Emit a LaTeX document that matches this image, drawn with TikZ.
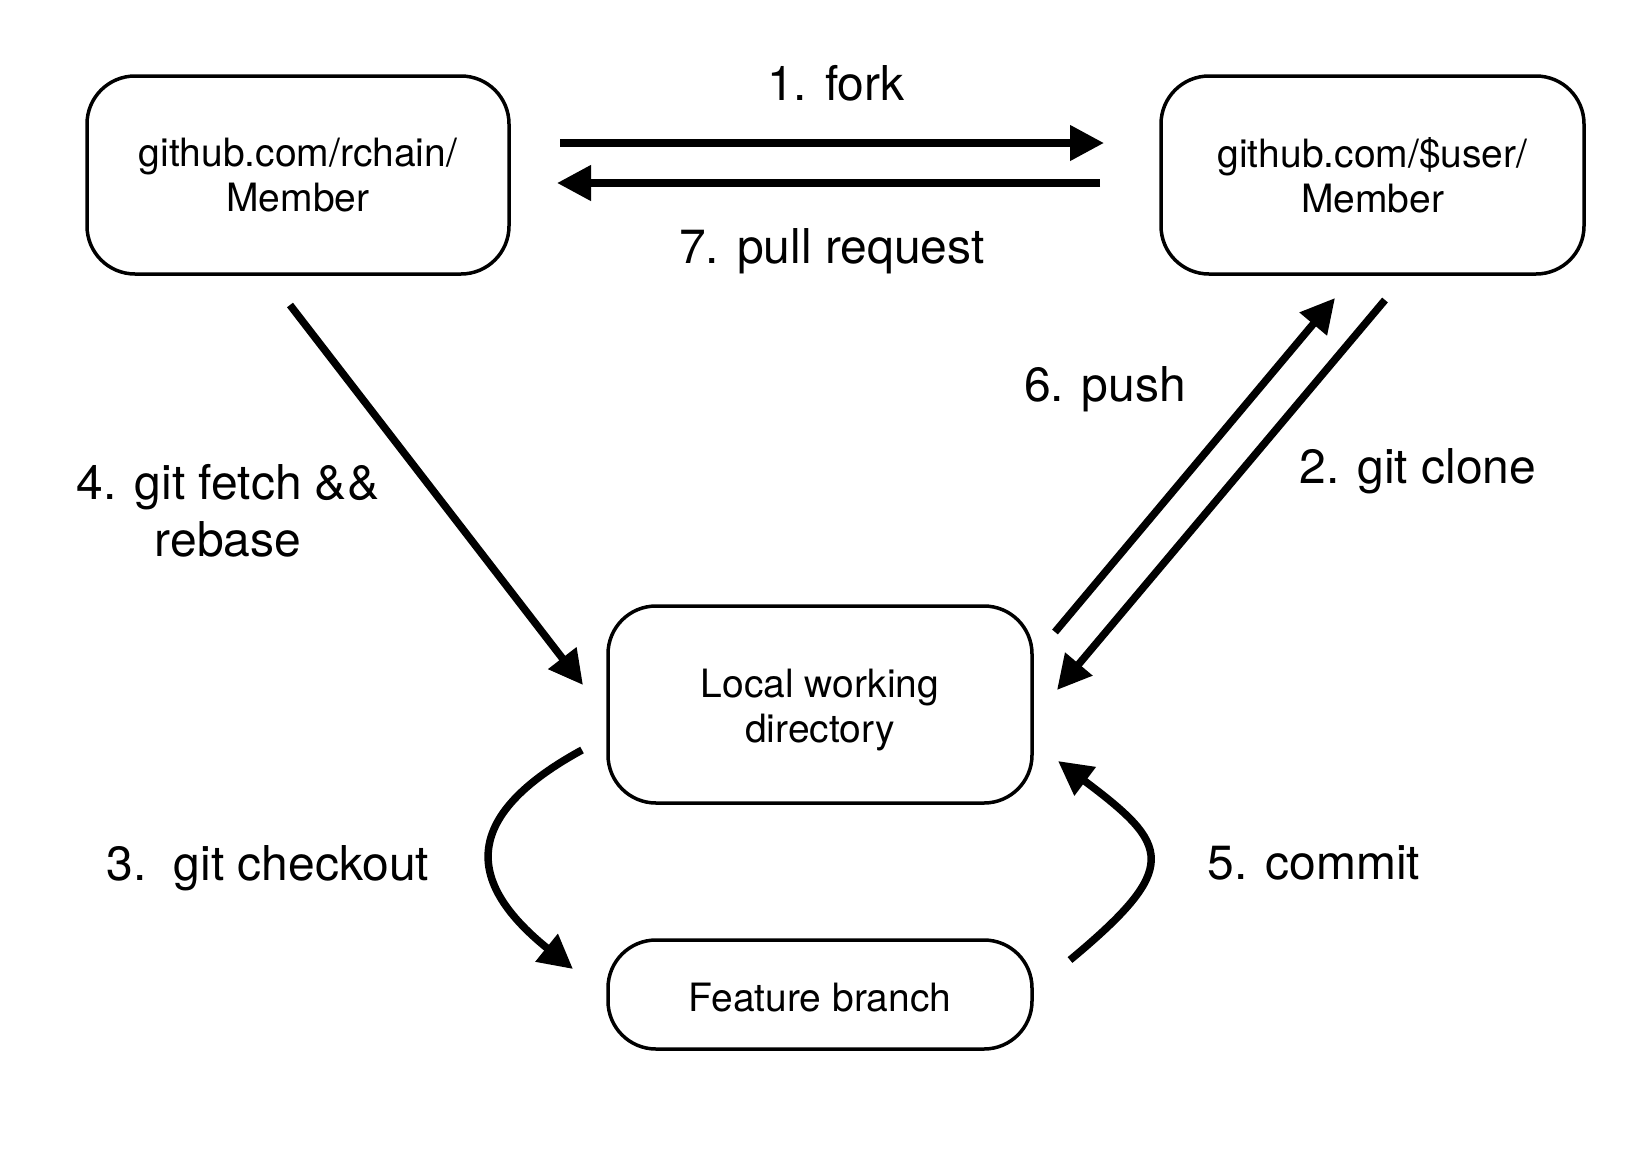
\documentclass[tikz,border=0pt]{standalone}
\usepackage{fontspec}
\setmainfont{TeX Gyre Heros}
\usetikzlibrary{arrows.meta}
\tikzset{
  box/.style={draw, line width=3.5pt, rounded corners=48pt, inner sep=0pt, align=center,
    font=\fontsize{39}{45}\selectfont},
  lbl/.style={inner sep=0pt, align=center, font=\fontsize{48}{57}\selectfont},
  flow/.style={line width=7.5pt, -{Triangle[length=34pt,width=34pt]}},
}
\begin{document}
\begin{tikzpicture}[x=1pt,y=-1pt]
\fill[white] (0,0) rectangle (1638,1152);
\useasboundingbox (0,0) rectangle (1638,1152);
% boxes
\node[box, minimum width=422pt, minimum height=198pt] (rchain) at (298,175) {github.com/rchain/\\Member};
\node[box, minimum width=423pt, minimum height=198pt] (user) at (1372.5,175) {github.com/\$user/\\Member};
\node[box, minimum width=424pt, minimum height=197pt] (local) at (820,704.5) {\rule{0pt}{40pt}Local working\\directory};
\node[box, minimum width=424pt, minimum height=109pt] (feature) at (820,994.5) {\rule{0pt}{34pt}Feature branch};
% endpoints
\coordinate (forkA) at (560,143);
\coordinate (forkB) at (1104,143);
\coordinate (prA) at (1100,183);
\coordinate (prB) at (557,183);
\coordinate (fetchA) at (290,305);
\coordinate (fetchB) at (583,685);
\coordinate (pushA) at (1055,632);
\coordinate (pushB) at (1335,298);
\coordinate (cloneA) at (1385,300);
\coordinate (cloneB) at (1057,690);
\coordinate (coA) at (582,750);
\coordinate (coB) at (573,969);
\coordinate (cmA) at (1070,960);
\coordinate (cmB) at (1058,761);
% connectors
\draw[flow] (forkA) -- (forkB);
\draw[flow] (prA) -- (prB);
\draw[flow] (fetchA) -- (fetchB);
\draw[flow] (pushA) -- (pushB);
\draw[flow] (cloneA) -- (cloneB);
\draw[flow] (coA) .. controls (450,822) and (475,890) .. (coB);
\draw[flow] (cmA) .. controls (1182,867) and (1170,845) .. (cmB);
% labels
\node[lbl] (lfork) at (836,83) {1. fork};
\node[lbl] (lpr) at (832,251) {7. pull request};
\node[lbl] (lpush) at (1105,389) {6. push};
\node[lbl] (lclone) at (1418,471) {2. git clone};
\node[lbl] (lfetch) at (228,511) {4. git fetch \&\&\\rebase};
\node[lbl] (lco) at (268,868) {3.\ \ git checkout};
\node[lbl] (lcm) at (1314,863) {5. commit};
\end{tikzpicture}
\end{document}
